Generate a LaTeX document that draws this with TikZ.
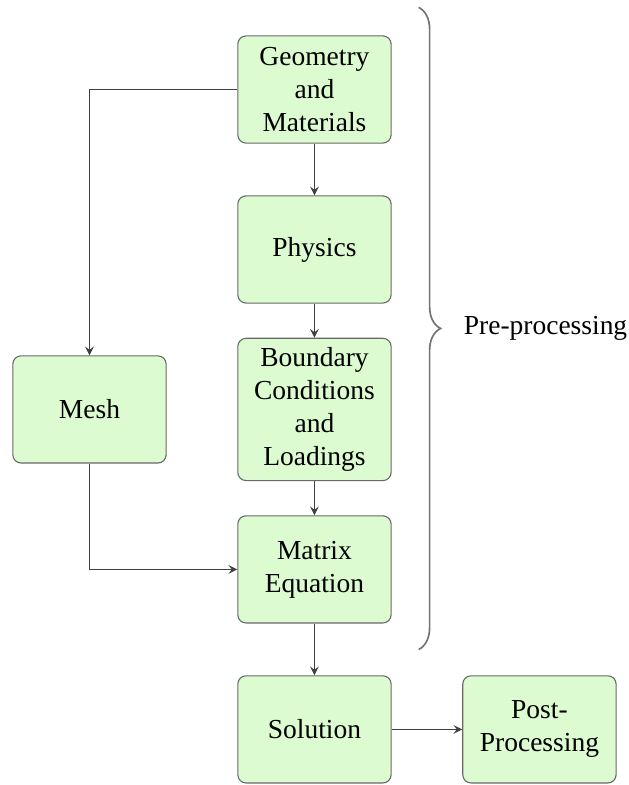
\documentclass[tikz,border=0pt]{standalone}
\usepackage{fontspec}
\setmainfont{Liberation Serif}
\usetikzlibrary{arrows, decorations.pathreplacing}
\definecolor{boxgreen}{RGB}{221,251,208}
\definecolor{boxline}{RGB}{105,105,105}
\tikzstyle{process} = [rectangle, rounded corners=3pt, minimum width=1.96cm, minimum height=1.37cm, text width=49pt, align=center, draw=boxline, fill=boxgreen]
\tikzstyle{arrow} = [->,>=stealth, draw=black!75]

\begin{document}
\begin{tikzpicture}[node distance=2.045cm]

    % Nodes
    \node (geometry) [process] {Geometry\\and\\Materials};
    \node (physics) [process, below of=geometry] {Physics};
    \node (boundary) [process, below of=physics] {Boundary\\Conditions\\and\\Loadings};
    \node (matrix) [process, below of=boundary] {Matrix\\Equation};
    \node (solution) [process, below of=matrix] {Solution};
    \node (mesh) [process, left of=boundary, node distance=2.876cm] {Mesh};
    \node (post) [process, right of=solution, node distance=2.876cm] {Post-\\Processing};

    % Frame
    \useasboundingbox (-4.02,1.144) rectangle (4.02,-8.891);

    % Arrows
    \draw [arrow] (geometry) -- (physics);
    \draw [arrow] (physics) -- (boundary);
    \draw [arrow] (boundary) -- (matrix);
    \draw [arrow] (matrix) -- (solution);
    \draw [arrow] (solution) -- (post);
    \draw [arrow] (geometry.west) -| (mesh.north);
    \draw [arrow] (mesh.south) |- (matrix.west);

    % Brace
    \coordinate (bracetop) at ([xshift=0.345cm, yshift=0.358cm]geometry.north east);
    \coordinate (bracebot) at ([xshift=0.345cm, yshift=-0.332cm]matrix.south east);
    \draw [decorate, decoration={brace, amplitude=0.28cm}, draw=black!55, semithick] (bracetop) -- node[midway, right=0.45cm] {Pre-processing} (bracebot);

\end{tikzpicture}
\end{document}
